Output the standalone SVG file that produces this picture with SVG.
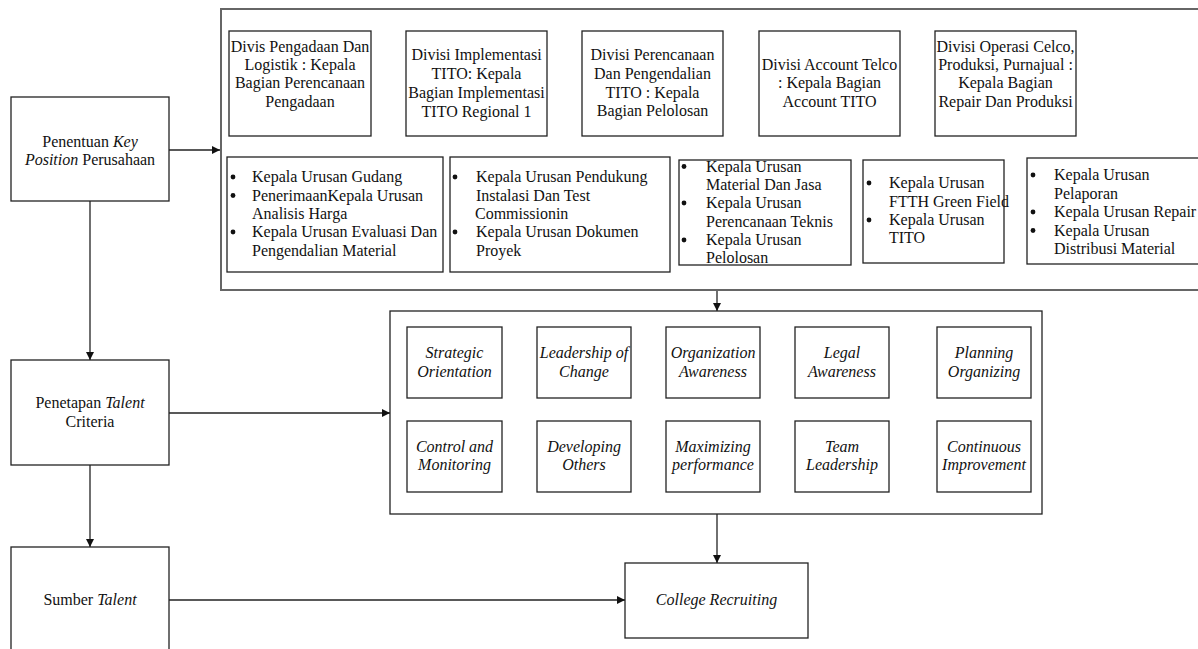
<svg xmlns="http://www.w3.org/2000/svg" width="1198" height="649" viewBox="0 0 1198 649">
<style>
text{font-family:"Liberation Serif","Times New Roman",serif;font-size:16px;fill:#111}
.c{text-anchor:middle}
.i{font-style:italic}
.b{fill:#fff;stroke:#222;stroke-width:1.3}
.o{fill:none;stroke:#666;stroke-width:2}
.ln{fill:none;stroke:#222;stroke-width:1.3}
.dot{fill:#111}
</style>
<defs>
<marker id="ah" viewBox="0 0 10 10" refX="10" refY="5" markerWidth="8" markerHeight="8" markerUnits="userSpaceOnUse" orient="auto">
<path d="M0,0 L10,5 L0,10 z" fill="#111"/>
</marker>
</defs>
<rect width="1198" height="649" fill="#fff"/>

<g id="connectors">
<path class="ln" d="M169,150 H220" marker-end="url(#ah)"/>
<path class="ln" d="M90,201 V360" marker-end="url(#ah)"/>
<path class="ln" d="M169,413 H390" marker-end="url(#ah)"/>
<path class="ln" d="M90,465 V547" marker-end="url(#ah)"/>
<path class="ln" d="M169,600 H625" marker-end="url(#ah)"/>
<path class="ln" d="M717,290 V311" marker-end="url(#ah)"/>
<path class="ln" d="M717,514 V563" marker-end="url(#ah)"/>
</g>

<g id="key-positions-container">
<rect class="o" x="221" y="9" width="990" height="281"/>
</g>

<g id="left-penentuan">
<rect class="b" x="11" y="97" width="158" height="104"/>
<text class="c" x="90" y="147">Penentuan <tspan class="i">Key</tspan></text>
<text class="c" x="90" y="165"><tspan class="i">Position</tspan> Perusahaan</text>
</g>
<g id="left-penetapan">
<rect class="b" x="11" y="360" width="158" height="105"/>
<text class="c" x="90" y="408">Penetapan <tspan class="i">Talent</tspan></text>
<text class="c" x="90" y="427">Criteria</text>
</g>
<g id="left-sumber">
<rect class="b" x="11" y="547" width="158" height="120"/>
<text class="c" x="90" y="605">Sumber <tspan class="i">Talent</tspan></text>
</g>

<g id="div1">
<rect class="b" x="229" y="31" width="142" height="105"/>
<text class="c" x="300" y="52">Divis Pengadaan Dan</text>
<text class="c" x="300" y="70">Logistik : Kepala</text>
<text class="c" x="300" y="88">Bagian Perencanaan</text>
<text class="c" x="300" y="107">Pengadaan</text>
</g>
<g id="div2">
<rect class="b" x="406" y="31" width="141" height="105"/>
<text class="c" x="476.5" y="60">Divisi Implementasi</text>
<text class="c" x="476.5" y="79">TITO: Kepala</text>
<text class="c" x="476.5" y="98">Bagian Implementasi</text>
<text class="c" x="476.5" y="117">TITO Regional 1</text>
</g>
<g id="div3">
<rect class="b" x="582" y="31" width="141" height="105"/>
<text class="c" x="652.5" y="60">Divisi Perencanaan</text>
<text class="c" x="652.5" y="78.5">Dan Pengendalian</text>
<text class="c" x="652.5" y="97.5">TITO : Kepala</text>
<text class="c" x="652.5" y="116">Bagian Pelolosan</text>
</g>
<g id="div4">
<rect class="b" x="759" y="31" width="141" height="105"/>
<text class="c" x="829.5" y="70">Divisi Account Telco</text>
<text class="c" x="829.5" y="88">: Kepala Bagian</text>
<text class="c" x="829.5" y="107">Account TITO</text>
</g>
<g id="div5">
<rect class="b" x="935" y="31" width="141" height="105"/>
<text class="c" x="1005.5" y="52">Divisi Operasi Celco,</text>
<text class="c" x="1005.5" y="70">Produksi, Purnajual :</text>
<text class="c" x="1005.5" y="88">Kepala Bagian</text>
<text class="c" x="1005.5" y="107">Repair Dan Produksi</text>
</g>

<g id="list-a">
<rect class="b" x="227" y="157" width="216" height="115"/>
<circle class="dot" cx="233" cy="177" r="2.4"/>
<circle class="dot" cx="233" cy="195.5" r="2.4"/>
<circle class="dot" cx="233" cy="232" r="2.4"/>
<text x="252" y="182">Kepala Urusan Gudang</text>
<text x="252" y="200.5">PenerimaanKepala Urusan</text>
<text x="252" y="219">Analisis Harga</text>
<text x="252" y="237">Kepala Urusan Evaluasi Dan</text>
<text x="252" y="255.5">Pengendalian Material</text>
</g>
<g id="list-b">
<rect class="b" x="450" y="157" width="220" height="115"/>
<circle class="dot" cx="455" cy="177" r="2.4"/>
<circle class="dot" cx="455" cy="232" r="2.4"/>
<text x="476" y="182">Kepala Urusan Pendukung</text>
<text x="476" y="200.5">Instalasi Dan Test</text>
<text x="475" y="219">Commissionin</text>
<text x="476" y="237">Kepala Urusan Dokumen</text>
<text x="476" y="255.5">Proyek</text>
</g>
<g id="list-c">
<rect class="b" x="679" y="160" width="172" height="105"/>
<circle class="dot" cx="684" cy="166.5" r="2.4"/>
<circle class="dot" cx="684" cy="203" r="2.4"/>
<circle class="dot" cx="684" cy="240" r="2.4"/>
<text x="706" y="171.5">Kepala Urusan</text>
<text x="706" y="190">Material Dan Jasa</text>
<text x="706" y="208">Kepala Urusan</text>
<text x="706" y="226.5">Perencanaan Teknis</text>
<text x="706" y="245">Kepala Urusan</text>
<text x="706" y="263">Pelolosan</text>
</g>
<g id="list-d">
<rect class="b" x="863" y="160" width="141" height="103"/>
<circle class="dot" cx="869" cy="183" r="2.4"/>
<circle class="dot" cx="869" cy="220" r="2.4"/>
<text x="889" y="188">Kepala Urusan</text>
<text x="889" y="207">FTTH Green Field</text>
<text x="889" y="225">Kepala Urusan</text>
<text x="889" y="243">TITO</text>
</g>
<g id="list-e">
<rect class="b" x="1027" y="158" width="185" height="106"/>
<circle class="dot" cx="1033" cy="175" r="2.4"/>
<circle class="dot" cx="1033" cy="212" r="2.4"/>
<circle class="dot" cx="1033" cy="230.5" r="2.4"/>
<text x="1054" y="180">Kepala Urusan</text>
<text x="1054" y="198.5">Pelaporan</text>
<text x="1054" y="217">Kepala Urusan Repair</text>
<text x="1054" y="235.5">Kepala Urusan</text>
<text x="1054" y="254">Distribusi Material</text>
</g>

<g id="criteria-container">
<rect class="b" x="390" y="311" width="652" height="203" fill="none"/>
</g>
<g id="c1"><rect class="b" x="407" y="327" width="95" height="71"/><text class="c i" x="454.5" y="358">Strategic</text><text class="c i" x="454.5" y="377">Orientation</text></g>
<g id="c2"><rect class="b" x="537" y="327" width="94" height="71"/><text class="c i" x="584" y="358">Leadership of</text><text class="c i" x="584" y="377">Change</text></g>
<g id="c3"><rect class="b" x="666" y="327" width="94" height="71"/><text class="c i" x="713" y="358">Organization</text><text class="c i" x="713" y="377">Awareness</text></g>
<g id="c4"><rect class="b" x="795" y="327" width="94" height="71"/><text class="c i" x="842" y="358">Legal</text><text class="c i" x="842" y="377">Awareness</text></g>
<g id="c5"><rect class="b" x="937" y="327" width="94" height="71"/><text class="c i" x="984" y="358">Planning</text><text class="c i" x="984" y="377">Organizing</text></g>
<g id="c6"><rect class="b" x="407" y="421" width="95" height="71"/><text class="c i" x="454.5" y="452">Control and</text><text class="c i" x="454.5" y="470">Monitoring</text></g>
<g id="c7"><rect class="b" x="537" y="421" width="94" height="71"/><text class="c i" x="584" y="452">Developing</text><text class="c i" x="584" y="470">Others</text></g>
<g id="c8"><rect class="b" x="666" y="421" width="94" height="71"/><text class="c i" x="713" y="452">Maximizing</text><text class="c i" x="713" y="470">performance</text></g>
<g id="c9"><rect class="b" x="795" y="421" width="94" height="71"/><text class="c i" x="842" y="452">Team</text><text class="c i" x="842" y="470">Leadership</text></g>
<g id="c10"><rect class="b" x="937" y="421" width="94" height="71"/><text class="c i" x="984" y="452">Continuous</text><text class="c i" x="984" y="470">Improvement</text></g>

<g id="college">
<rect class="b" x="625" y="563" width="183" height="75"/>
<text class="c i" x="716.5" y="605">College Recruiting</text>
</g>
</svg>
